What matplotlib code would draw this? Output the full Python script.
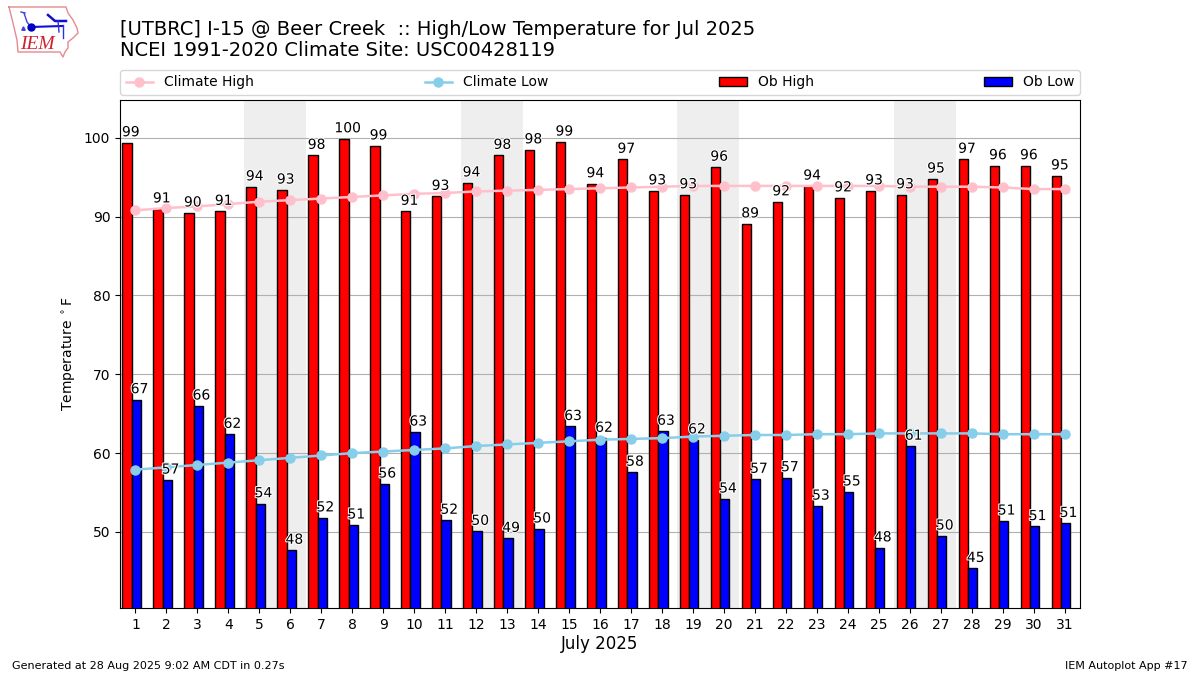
import matplotlib
matplotlib.use("Agg")
import matplotlib.pyplot as plt
import matplotlib.patheffects as pe
import numpy as np

# =================================
# DATA
# =================================

days = list(range(1, 32))

ob_high = [99.4, 91.0, 90.49, 90.7, 93.8, 93.4, 97.8, 99.9, 99.0, 90.7, 92.6,
           94.3, 97.8, 98.5, 99.49, 94.2, 97.3, 93.3, 92.8, 96.3, 89.1, 91.9,
           93.9, 92.4, 93.3, 92.8, 94.8, 97.3, 96.49, 96.49, 95.2]
ob_low = [66.8, 56.6, 66.0, 62.4, 53.6, 47.7, 51.8, 50.9, 56.1, 62.7, 51.5,
          50.1, 49.2, 50.4, 63.4, 61.9, 57.6, 62.8, 61.7, 54.2, 56.7, 56.9,
          53.3, 55.1, 48.0, 60.9, 49.5, 45.4, 51.4, 50.7, 51.1]
climate_high = [90.8, 91.1, 91.3, 91.6, 91.9, 92.1, 92.3, 92.5, 92.7, 92.9, 93.0,
                93.2, 93.3, 93.4, 93.5, 93.6, 93.7, 93.8, 93.9, 93.9, 93.9, 93.9,
                93.9, 93.9, 93.9, 93.8, 93.8, 93.8, 93.7, 93.5, 93.5]
climate_low = [57.9, 58.2, 58.5, 58.8, 59.1, 59.4, 59.7, 60.0, 60.2, 60.4, 60.6,
               60.9, 61.1, 61.3, 61.5, 61.7, 61.8, 61.9, 62.1, 62.2, 62.3, 62.3,
               62.4, 62.4, 62.5, 62.5, 62.5, 62.5, 62.4, 62.4, 62.4]
weekend_starts = [5, 12, 19, 26]

# =================================
# FIGURE
# =================================

W, H = 1200, 675
fig = plt.figure(figsize=(12, 6.75), dpi=100)
ax = fig.add_axes([120 / W, 1 - 608 / H, 960 / W, 508 / H])

x = np.array(days)

for start in weekend_starts:
    ax.axvspan(start - 0.5, start + 1.5, color="#EEEEEE", lw=0, zorder=0.5)

ax.grid(axis="y", color="#B0B0B0", lw=0.8)
ax.set_axisbelow(True)

# =================================
# BARS AND LINES
# =================================

bars_high = ax.bar(x - 0.42, ob_high, width=0.3, align="edge", color="red",
                   edgecolor="k", lw=1, label="Ob High", zorder=3)
bars_low = ax.bar(x - 0.12, ob_low, width=0.3, align="edge", color="blue",
                  edgecolor="k", lw=1, label="Ob Low", zorder=3)

line_high, = ax.plot(x, climate_high, color="pink", marker="o", lw=1.8, ms=6.5,
                     label="Climate High", zorder=4)
line_low, = ax.plot(x, climate_low, color="skyblue", marker="o", lw=1.8, ms=6.5,
                    label="Climate Low", zorder=4)

# =================================
# VALUE LABELS
# =================================

halo = [pe.withStroke(linewidth=1.5, foreground="white")]
for i, day in enumerate(days):
    ax.annotate(f"{ob_high[i]:.0f}", (day - 0.15, ob_high[i]), xytext=(0, 2.4),
                textcoords="offset points", ha="center", va="bottom",
                fontsize=10, path_effects=halo, zorder=5)
    ax.annotate(f"{ob_low[i]:.0f}", (day + 0.13, ob_low[i]), xytext=(0, 2.4),
                textcoords="offset points", ha="center", va="bottom",
                fontsize=10, path_effects=halo, zorder=5)

# =================================
# STYLE
# =================================

ax.set_xlim(0.5, 31.5)
ax.set_ylim(40.35, 104.8)
ax.set_xticks(days)
ax.set_yticks([50, 60, 70, 80, 90, 100])
ax.tick_params(labelsize=10)
ax.set_xlabel("July 2025", fontsize=12, labelpad=2.5)
ax.set_ylabel(r"Temperature $^\circ$F", fontsize=10)

ax.legend(handles=[line_high, line_low, bars_high, bars_low], ncol=4,
          mode="expand", loc="lower left", fontsize=10,
          bbox_to_anchor=(0, 1 + 5 / 508, 1, 0.05), borderaxespad=0)

fig.text(120 / W, 1 - 29.5 / H, "[UTBRC] I-15 @ Beer Creek  :: High/Low Temperature for Jul 2025",
         fontsize=14, va="center")
fig.text(120 / W, 1 - 50.5 / H, "NCEI 1991-2020 Climate Site: USC00428119",
         fontsize=14, va="center")
fig.text(12 / W, 1 - 666 / H, "Generated at 28 Aug 2025 9:02 AM CDT in 0.27s",
         fontsize=8, va="center")
fig.text(1188 / W, 1 - 666 / H, "IEM Autoplot App #17", fontsize=8, va="center", ha="right")

# =================================
# LOGO
# =================================

logo = fig.add_axes([0, 0, 1, 1], facecolor="none")
logo.set_xlim(0, W)
logo.set_ylim(H, 0)
logo.axis("off")
logo.set_zorder(-1)

outline_x = [9, 66, 68, 73, 77, 78, 73, 68, 68, 65, 63, 60, 18, 17, 13, 9]
outline_y = [7, 7, 13, 20, 28, 33, 38, 42, 48, 52, 57, 52, 52, 40, 23, 7]
logo.plot(outline_x, outline_y, color="#E58A90", lw=1)
logo.plot([31, 62], [27, 26], color="#1010D8", lw=1.5)
logo.plot([24, 27, 31], [13, 22, 27], color="#4040E0", lw=1)
logo.plot([21, 25], [12, 13], color="#4040E0", lw=1)
logo.plot([31], [27], marker="o", color="#0000C0", ms=5)
logo.plot([23], [28], marker="^", color="#4040E0", ms=2.5)
logo.plot([48, 55, 66], [15, 21, 21], color="#1010C8", lw=1.8)
logo.plot([58, 59], [21, 32], color="#3030E0", lw=1)
logo.plot([63, 63], [25, 38], color="#3030E0", lw=1)
logo.text(37.5, 44.5, "IEM", color="#D02030", fontsize=14, family="Liberation Serif",
          style="italic", ha="center", va="center")

fig.savefig("out.png", dpi=100)
